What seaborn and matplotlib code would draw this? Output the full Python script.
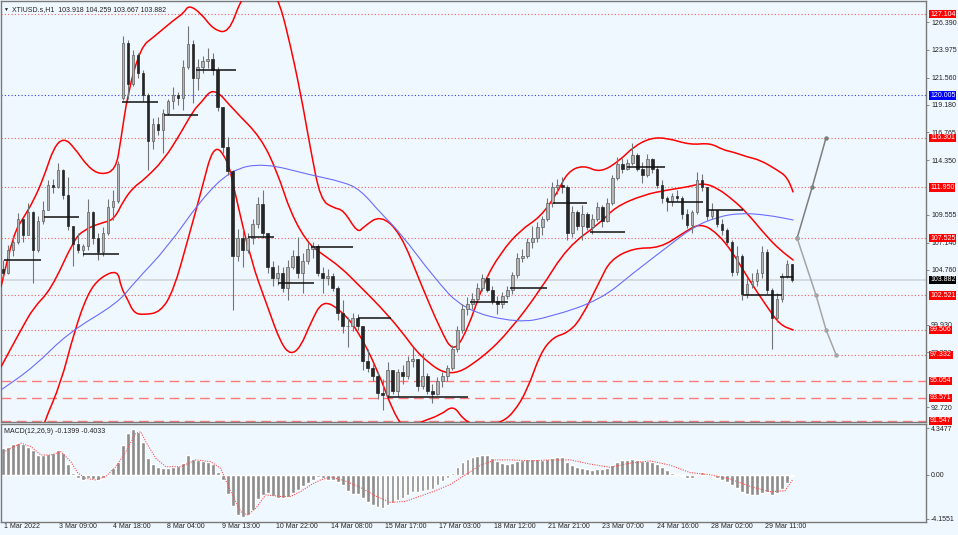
"""
XTIUSD H1 chart: candles, Bollinger bands, slow MA, daily levels,
projection arrows and a MACD panel underneath. Saved to out.png.
"""

import matplotlib.pyplot as plt
import matplotlib.transforms as mtransforms
import seaborn as sns
from matplotlib.patches import PathPatch
from matplotlib.path import Path

OUT_PATH = "out.png"
BG = "#F0F8FF"
FONT = ["Liberation Sans", "DejaVu Sans"]
FS = 5.0

# ---- candles (one candle per ~3 hourly bars, x = candle index) ----
opens = [104.8, 104.5, 106.5, 107.2, 109.2, 107.8, 109.8, 106.5, 109.0, 110.0,
         112.2, 112.0, 113.5, 111.3, 108.6, 107.0, 106.5, 106.8, 109.8, 107.5,
         106.3, 108.0, 110.2, 110.8, 119.8, 124.6, 121.0, 123.5, 122.0, 120.0,
         116.0, 117.5, 117.0, 118.5, 119.5, 120.0, 119.8, 122.5, 124.5, 121.5,
         122.5, 123.0, 123.2, 122.2, 119.0, 115.5, 113.4, 106.0, 107.5, 106.5,
         107.5, 108.8, 110.5, 108.0, 105.0, 104.0, 104.5, 103.2, 105.0, 106.0,
         104.5, 105.5, 106.6, 106.8, 104.5, 104.0, 104.2, 103.2, 101.0, 99.8,
         99.8, 100.5, 99.8, 96.8, 96.2, 95.5, 94.0, 93.8, 96.0, 94.2,
         95.8, 95.5, 96.8, 97.0, 94.6, 95.5, 94.2, 93.9, 95.0, 95.5,
         96.2, 97.8, 99.5, 101.3, 101.8, 102.2, 103.2, 104.0, 103.0, 102.0,
         101.8, 102.5, 103.0, 104.3, 105.8, 106.0, 107.2, 107.5, 108.5, 109.2,
         110.6, 112.0, 112.2, 112.0, 108.0, 109.8, 108.6, 109.6, 108.5, 109.2,
         110.2, 109.0, 110.6, 112.8, 114.0, 113.6, 114.1, 114.8, 113.6, 113.0,
         114.4, 113.6, 112.2, 111.0, 110.8, 111.2, 111.0, 109.6, 108.7, 109.8,
         112.6, 112.0, 109.5, 110.0, 108.8, 108.2, 107.2, 104.6, 106.0, 102.6,
         103.5, 103.8, 104.5, 106.3, 103.0, 100.5, 102.2, 104.2, 105.3]
highs = [105.6, 106.9, 107.8, 109.7, 109.0, 110.6, 109.9, 109.5, 110.8, 112.6,
         112.7, 114.1, 113.6, 112.9, 108.6, 108.0, 107.0, 110.9, 109.9, 108.0,
         108.5, 110.9, 111.7, 114.3, 125.2, 124.8, 124.0, 123.7, 122.2, 120.2,
         118.0, 118.1, 118.8, 119.7, 120.7, 120.3, 123.1, 126.1, 124.8, 123.2,
         123.4, 124.1, 123.7, 122.5, 119.0, 116.4, 113.5, 108.3, 108.3, 108.0,
         109.2, 111.1, 111.7, 108.0, 105.5, 105.2, 105.0, 105.6, 106.5, 107.6,
         106.2, 107.1, 107.2, 107.0, 105.0, 104.8, 104.5, 103.3, 102.1, 100.6,
         101.0, 100.9, 99.8, 97.8, 96.5, 95.8, 95.2, 96.7, 96.0, 96.1,
         96.4, 97.2, 98.0, 97.0, 97.5, 95.7, 94.8, 95.4, 95.8, 96.4,
         98.2, 99.8, 101.8, 102.4, 102.7, 103.6, 104.4, 104.3, 103.3, 102.5,
         102.8, 103.3, 104.6, 106.2, 106.6, 107.5, 108.6, 108.9, 109.5, 111.0,
         112.4, 112.7, 112.9, 112.2, 110.3, 110.0, 110.4, 109.8, 109.6, 110.7,
         110.4, 111.0, 113.0, 114.6, 114.5, 114.4, 115.8, 115.0, 114.2, 114.9,
         114.5, 113.8, 112.6, 111.2, 111.5, 111.7, 111.2, 110.1, 110.0, 113.3,
         113.1, 112.0, 110.6, 110.0, 109.2, 108.4, 107.4, 106.8, 106.1, 104.0,
         104.5, 104.8, 106.8, 106.6, 103.2, 102.7, 104.5, 105.6, 105.3]
lows = [104.0, 104.4, 106.0, 107.0, 107.2, 107.8, 103.6, 106.3, 108.8, 110.0,
        111.5, 111.9, 110.9, 108.2, 105.1, 106.2, 106.0, 106.5, 107.0, 105.6,
        106.0, 107.8, 109.1, 110.6, 119.6, 119.7, 120.8, 121.5, 119.5, 113.5,
        115.3, 116.5, 115.0, 118.3, 118.8, 119.2, 118.7, 122.3, 119.3, 120.5,
        122.0, 122.4, 121.8, 118.6, 115.0, 113.0, 101.2, 105.5, 105.0, 106.2,
        107.0, 108.4, 107.5, 104.5, 103.3, 103.4, 102.8, 102.1, 104.8, 104.0,
        102.7, 105.3, 105.8, 104.2, 102.7, 103.4, 102.9, 100.4, 99.2, 98.0,
        99.4, 99.5, 96.0, 95.8, 95.0, 93.5, 92.5, 93.6, 93.9, 93.6,
        94.8, 95.2, 96.3, 94.2, 94.3, 93.9, 93.1, 93.8, 94.5, 95.0,
        96.0, 97.6, 99.2, 100.8, 101.3, 101.9, 102.9, 102.8, 101.8, 100.9,
        101.4, 102.2, 102.6, 104.0, 105.4, 105.8, 106.7, 107.2, 107.8, 109.0,
        110.2, 111.4, 111.5, 107.4, 107.6, 108.2, 107.4, 108.2, 107.9, 109.0,
        108.5, 108.9, 110.4, 112.6, 113.2, 113.5, 113.9, 113.4, 112.3, 112.9,
        113.2, 111.9, 110.6, 109.9, 110.3, 110.8, 109.2, 108.4, 108.0, 109.6,
        111.6, 109.1, 109.2, 108.5, 107.8, 106.8, 104.2, 104.3, 102.1, 102.3,
        103.2, 103.3, 104.0, 102.6, 97.8, 100.2, 101.9, 104.0, 103.7]
closes = opens[1:] + [103.882]
closes[23] = 114.0

# ---- Bollinger bands and slow MA (read at sample points) ----
upper_x = [-0.4, 2.2, 4.2, 6.2, 8.2, 10.2, 12.2, 14.2, 17.0, 19.6, 22.6, 23.6,
           25.0, 27.6, 30.2, 34.2, 36.2, 37.2, 39.6, 42.2, 45.2, 47.6, 51.2,
           55.0, 57.0, 59.6, 61.6, 63.6, 66.2, 68.2, 71.0, 72.2, 75.6, 79.6,
           83.6, 87.6, 90.2, 93.0, 96.2, 99.6, 103.6, 107.6, 111.0, 113.0,
           116.2, 119.6, 123.6, 126.2, 129.6, 133.0, 137.6, 141.6, 144.2,
           146.2, 149.0, 151.6, 155.0, 157.0, 158.2]
upper = [103.25, 107.97, 109.37, 110.86, 112.87, 115.49, 116.28, 115.49, 113.74,
         113.04, 113.48, 116.10, 120.21, 124.23, 125.11, 126.59, 127.20, 127.90,
         127.20, 125.72, 125.46, 128.34, 131.0, 128.6, 125.46, 120.21, 115.23,
         110.86, 110.16, 109.98, 107.97, 108.50, 109.55, 107.97, 103.60, 99.50,
         97.48, 99.50, 103.60, 106.22, 108.23, 109.37, 111.47, 113.30, 113.92,
         113.22, 114.35, 115.49, 116.28, 116.28, 115.67, 115.84, 115.23, 115.05,
         114.62, 114.35, 113.48, 112.87, 111.56]
middle_x = [-0.4, 3.6, 6.2, 9.6, 14.2, 16.2, 19.6, 22.2, 24.2, 26.2, 28.2, 32.2,
            35.6, 38.2, 39.6, 42.2, 46.2, 51.6, 55.0, 57.6, 61.0, 63.6, 67.6,
            71.6, 75.6, 79.6, 83.6, 89.6, 96.2, 101.6, 107.6, 113.0, 119.6,
            122.6, 128.2, 133.0, 137.0, 140.2, 143.0, 146.2, 149.0, 153.0,
            155.6, 158.2]
middle = [96.26, 99.50, 101.50, 103.00, 107.36, 108.24, 108.85, 109.11, 110.86,
          111.99, 112.61, 114.35, 116.71, 118.73, 119.34, 120.74, 118.73, 116.36,
          113.22, 109.72, 107.10, 106.22, 105.00, 103.25, 101.50, 99.50, 97.13,
          95.30, 97.13, 99.50, 103.00, 106.75, 108.85, 110.25, 111.30, 111.73,
          111.99, 112.34, 111.91, 110.86, 109.72, 107.62, 106.49, 105.61]
lower_x = [7.6, 8.2, 11.6, 14.2, 17.0, 19.6, 23.0, 23.6, 25.0, 26.2, 28.2, 31.6,
           34.2, 37.0, 39.6, 42.2, 45.0, 46.2, 49.6, 53.0, 55.6, 57.6, 59.6,
           61.6, 64.0, 67.6, 71.0, 75.0, 78.2, 80.6, 83.6, 87.6, 90.2, 92.2,
           95.6, 99.6, 102.2, 105.0, 107.6, 110.2, 113.0, 115.6, 119.6, 121.6,
           126.2, 131.6, 136.2, 139.6, 143.0, 146.2, 149.0, 153.0, 155.6, 158.2]
lower = [90.32, 91.37, 94.86, 99.23, 102.73, 104.13, 104.74, 103.25, 102.12,
         100.98, 100.81, 101.07, 103.00, 107.36, 111.47, 115.84, 114.35, 111.99,
         105.61, 101.50, 98.36, 97.31, 98.01, 100.11, 102.12, 101.24, 99.50,
         96.00, 92.24, 90.75, 91.45, 92.06, 92.94, 91.63, 90.93, 91.37, 92.24,
         94.25, 97.48, 98.88, 99.23, 100.37, 103.86, 105.61, 106.66, 106.66,
         107.97, 108.85, 107.97, 106.22, 104.13, 101.50, 99.93, 99.50]
ma_x = [-0.4, 6.2, 13.0, 23.0, 26.2, 33.0, 39.6, 45.6, 52.2, 61.6, 68.2, 71.6,
        75.6, 79.6, 86.2, 92.2, 103.0, 109.6, 119.6, 126.2, 133.0, 138.2,
        143.0, 147.6, 153.0, 158.2]
ma = [94.25, 96.26, 99.23, 101.85, 103.60, 106.75, 110.86, 113.48, 114.09,
      113.04, 112.43, 111.73, 109.72, 107.97, 104.13, 101.24, 100.11, 100.63,
      102.12, 104.48, 106.75, 108.50, 109.37, 109.72, 109.55, 109.11]

# ---- daily close segments (black) ----
seg_price = [105.61, 109.37, 106.14, 119.42, 118.29, 122.22, 107.62, 103.60,
             106.75, 100.54, 93.64, 101.94, 103.16, 110.60, 108.06, 113.74,
             110.68, 109.98, 102.56, 104.13]
seg_start = [0.2, 8.2, 16.0, 23.8, 32.2, 38.6, 49.0, 55.0, 61.6, 71.0, 77.0,
             93.6, 101.6, 110.2, 117.6, 125.0, 133.0, 141.0, 148.2, 155.6]
seg_end = [7.6, 15.2, 23.2, 31.0, 39.0, 46.6, 54.2, 62.2, 70.0, 77.6, 93.2,
           101.2, 109.0, 117.0, 124.6, 132.6, 140.2, 148.2, 156.0, 158.2]

# ---- horizontal levels ----
dotted_levels = [127.104, 116.301, 111.950, 107.525, 102.521, 99.506, 97.332]
dashed_levels = [95.054, 93.571, 91.547]
blue_level = 120.005
last_price = 103.882
price_ticks = [92.720, 97.550, 99.930, 104.760, 107.140, 109.555, 114.350,
               116.765, 119.180, 121.560, 123.975, 126.390]

# ---- projection arrows ----
proj_up_x = [159.0, 162.0, 164.8]
proj_up = [107.525, 111.950, 116.301]
proj_dn_x = [159.0, 162.8, 164.8, 166.8]
proj_dn = [107.525, 102.521, 99.506, 97.332]

# ---- MACD (12,26,9) ----
macd = [2.5, 2.6, 2.85, 2.95, 2.85, 2.65, 2.3, 1.9, 1.85, 1.95,
        2.05, 2.3, 2.0, 1.0, 0.2, -0.3, -0.45, -0.35, -0.4, -0.5,
        -0.35, 0.1, 0.6, 1.2, 2.8, 3.9, 4.3, 4.05, 3.1, 1.6,
        1.0, 0.75, 0.6, 0.65, 0.75, 0.8, 1.1, 1.85, 1.45, 1.35,
        1.25, 1.2, 1.05, 0.3, -0.5, -1.8, -2.9, -3.75, -3.95, -3.75,
        -3.3, -2.3, -1.9, -1.75, -1.95, -2.2, -2.15, -2.05, -1.75, -1.4,
        -1.1, -0.8, -0.45, -0.2, -0.35, -0.5, -0.5, -0.7, -1.0, -1.5,
        -1.8, -1.8, -2.2, -2.6, -2.8, -3.0, -3.1, -2.8, -2.7, -2.4,
        -2.2, -1.9, -1.6, -1.6, -1.5, -1.4, -1.3, -1.0, -0.6, -0.3,
        0.2, 0.7, 1.2, 1.5, 1.7, 1.8, 1.9, 1.85, 1.6, 1.3,
        1.1, 1.0, 1.1, 1.3, 1.4, 1.45, 1.5, 1.45, 1.4, 1.5,
        1.6, 1.7, 1.65, 1.2, 0.9, 0.7, 0.6, 0.5, 0.45, 0.5,
        0.5, 0.6, 0.9, 1.2, 1.35, 1.4, 1.5, 1.4, 1.3, 1.3,
        1.2, 1.0, 0.7, 0.4, 0.2, 0.1, -0.1, -0.3, -0.3, 0.1,
        0.3, 0.1, -0.1, -0.3, -0.5, -0.7, -1.0, -1.2, -1.6, -1.8,
        -1.9, -1.9, -1.7, -1.6, -1.9, -1.7, -1.3, -0.8, -0.14]
signal_x = [-0.4, 1.6, 3.6, 5.6, 7.6, 9.6, 11.6, 13.6, 15.0, 16.6, 18.6, 20.6,
            22.6, 24.6, 26.6, 27.6, 28.6, 30.6, 32.6, 35.6, 38.6, 41.6, 43.6,
            45.6, 47.6, 49.0, 50.6, 52.6, 55.6, 57.6, 59.6, 61.6, 63.6, 65.6,
            68.6, 71.6, 74.6, 77.6, 80.6, 83.6, 86.6, 89.6, 92.6, 95.6, 98.6,
            101.6, 105.6, 109.6, 113.6, 117.6, 121.6, 125.6, 129.6, 133.6,
            137.6, 141.6, 145.6, 149.6, 153.6, 156.6, 158.2]
signal = [2.0, 2.5, 2.96, 2.65, 1.86, 1.86, 2.17, 1.23, 0.16, -0.33, -0.49,
          -0.16, 0.76, 2.17, 3.9, 4.04, 3.1, 1.55, 0.76, 0.76, 1.4, 1.23, 0.6,
          -1.58, -3.47, -3.78, -3.16, -1.9, -2.04, -2.04, -1.58, -0.96, -0.49,
          -0.2, -0.6, -1.2, -2.0, -2.6, -2.5, -2.0, -1.5, -0.9, 0.0, 0.9, 1.4,
          1.4, 1.3, 1.4, 1.4, 1.0, 0.7, 1.1, 1.3, 0.9, 0.2, 0.0, -0.4, -1.1,
          -1.6, -1.5, -0.4033]
macd_ticks = [4.3477, 0.0, -4.1551]
macd_tick_labels = ["4.3477", "0.00", "-4.1551"]

date_labels = ["1 Mar 2022", "3 Mar 09:00", "4 Mar 18:00", "8 Mar 04:00",
               "9 Mar 13:00", "10 Mar 22:00", "14 Mar 08:00", "15 Mar 17:00",
               "17 Mar 03:00", "18 Mar 12:00", "21 Mar 21:00", "23 Mar 07:00",
               "24 Mar 16:00", "28 Mar 02:00", "29 Mar 11:00"]

XLIM = (-0.4, 184.8)
PRICE_LIM = (91.45, 128.25)
MACD_LIM = (-4.44, 4.77)


def style_axes(ax):
    ax.set_facecolor(BG)
    for side in ("left", "right", "top", "bottom"):
        ax.spines[side].set_visible(True)
        ax.spines[side].set_color("#7a7a7a")
        ax.spines[side].set_linewidth(1.0)
    ax.set_xlim(*XLIM)
    ax.yaxis.tick_right()
    ax.tick_params(axis="y", length=2.5, width=0.6, pad=1.2, colors="#7a7a7a",
                   labelcolor="#222222", labelsize=FS)
    ax.grid(False)


def smooth_line(ax, xs, ys, color, lw):
    """Draw a polyline through the read points with rounded corners."""
    verts = [(xs[0], ys[0]), ((xs[0] + xs[1]) / 2, (ys[0] + ys[1]) / 2)]
    codes = [Path.MOVETO, Path.LINETO]
    for i in range(1, len(xs) - 1):
        verts += [(xs[i], ys[i]), ((xs[i] + xs[i + 1]) / 2, (ys[i] + ys[i + 1]) / 2)]
        codes += [Path.CURVE3, Path.CURVE3]
    verts.append((xs[-1], ys[-1]))
    codes.append(Path.LINETO)
    ax.add_patch(PathPatch(Path(verts, codes), fill=False, edgecolor=color,
                           lw=lw, zorder=3, capstyle="round", joinstyle="round"))


def right_box(ax, value, text, face):
    trans = mtransforms.blended_transform_factory(ax.transAxes, ax.transData)
    ax.text(1.0045, value, text, transform=trans, ha="left", va="center",
            fontsize=FS, color="white", family=FONT, clip_on=False, zorder=20,
            bbox=dict(boxstyle="square,pad=0.1", fc=face, ec="none"))


def draw_price(ax):
    idx = list(range(len(closes)))

    # levels
    for lv in dotted_levels:
        ax.axhline(lv, color="#ff5a5a", lw=0.8, ls=(0, (1, 2)), zorder=1)
    for lv in dashed_levels:
        ax.axhline(lv, color="#ff7a7a", lw=1.0, ls=(0, (7, 4)), zorder=1)
    ax.axhline(blue_level, color="#3a3aff", lw=0.8, ls=(0, (1, 2)), zorder=1)
    ax.axhline(last_price, color="#d4d8dc", lw=1.3, zorder=1)

    # bands and MA
    smooth_line(ax, upper_x, upper, "#ff0000", 1.1)
    smooth_line(ax, middle_x, middle, "#ff0000", 1.1)
    smooth_line(ax, lower_x, lower, "#ff0000", 1.1)
    smooth_line(ax, ma_x, ma, "#6b6bff", 0.8)

    # candles
    ax.vlines(idx, lows, highs, color="#747474", lw=0.8, zorder=4)
    ups = [c >= o for o, c in zip(opens, closes)]
    body_h = [max(abs(c - o), 0.08) for o, c in zip(opens, closes)]
    body_b = [min(o, c) for o, c in zip(opens, closes)]
    ax.bar(idx, body_h, bottom=body_b, width=0.5, zorder=5,
           color=["#b4b4b4" if u else "#262626" for u in ups],
           edgecolor=["#5e5e5e" if u else "#262626" for u in ups], linewidth=0.5)

    # daily segments
    ax.hlines(seg_price, seg_start, seg_end, color="#111111", lw=1.1, zorder=6)

    # projections
    ax.plot(proj_up_x, proj_up, color="#7d7d7d", lw=1.1, marker="o", ms=2.2,
            zorder=6)
    ax.plot(proj_dn_x, proj_dn, color="#a5a5a5", lw=1.1, marker="o", ms=2.2,
            zorder=6)

    ax.set_ylim(*PRICE_LIM)
    ax.set_yticks(price_ticks)
    ax.set_yticklabels([f"{v:.3f}" for v in price_ticks], family=FONT)
    ax.set_xticks([])
    ax.set_xlabel("")
    ax.set_ylabel("")

    for lv in dotted_levels + dashed_levels:
        right_box(ax, lv, f"{lv:.3f}", "#ff0000")
    right_box(ax, blue_level, f"{blue_level:.3f}", "#0000ff")
    right_box(ax, last_price, f"{last_price:.3f}", "#000000")

    ax.text(0.003, 0.985, "\u25bc", transform=ax.transAxes, fontsize=3.6,
            color="#222222", va="top", ha="left", family=FONT)
    ax.text(0.012, 0.987, "XTIUSD.s,H1  103.918 104.259 103.667 103.882",
            transform=ax.transAxes, fontsize=FS, color="#222222", va="top",
            ha="left", family=FONT)


def draw_macd(ax):
    idx = list(range(len(macd)))
    ax.bar(idx, macd, width=0.78, color="#8c8c8c", zorder=2)
    sns.lineplot(x=signal_x, y=signal, ax=ax, color="#ff5050", lw=0.8,
                 ls=(0, (1, 1.2)), sort=False, estimator=None, zorder=3)
    ax.set_ylim(*MACD_LIM)
    ax.set_yticks(macd_ticks)
    ax.set_yticklabels(macd_tick_labels, family=FONT)
    ax.set_xlabel("")
    ax.set_ylabel("")

    tick_pos = [(54.4 * j - 1) / 5 for j in range(len(date_labels))]
    ax.set_xticks(tick_pos)
    ax.set_xticklabels(date_labels, family=FONT)
    ax.tick_params(axis="x", length=3, width=0.6, pad=-2.4, colors="#7a7a7a",
                   labelcolor="#222222", labelsize=FS, direction="out")
    shift = mtransforms.ScaledTranslation(2.5 / 100, 0, ax.figure.dpi_scale_trans)
    for lab in ax.get_xticklabels():
        lab.set_horizontalalignment("left")
        lab.set_transform(lab.get_transform() + shift)

    ax.text(0.003, 0.955, "MACD(12,26,9) -0.1399 -0.4033", transform=ax.transAxes,
            fontsize=FS, color="#222222", va="top", ha="left", family=FONT)


def main():
    sns.set_style("white", {"axes.facecolor": BG, "figure.facecolor": BG})
    plt.rcParams["font.family"] = FONT

    fig = plt.figure(figsize=(9.58, 5.35), dpi=100, facecolor=BG)
    ax = fig.add_axes([0.001, 113 / 535, 925 / 958, 421 / 535])
    ax_macd = fig.add_axes([0.001, 13 / 535, 925 / 958, 98 / 535])
    style_axes(ax)
    style_axes(ax_macd)

    draw_price(ax)
    draw_macd(ax_macd)

    fig.savefig(OUT_PATH, dpi=100, facecolor=BG)
    plt.close(fig)


if __name__ == "__main__":
    main()
